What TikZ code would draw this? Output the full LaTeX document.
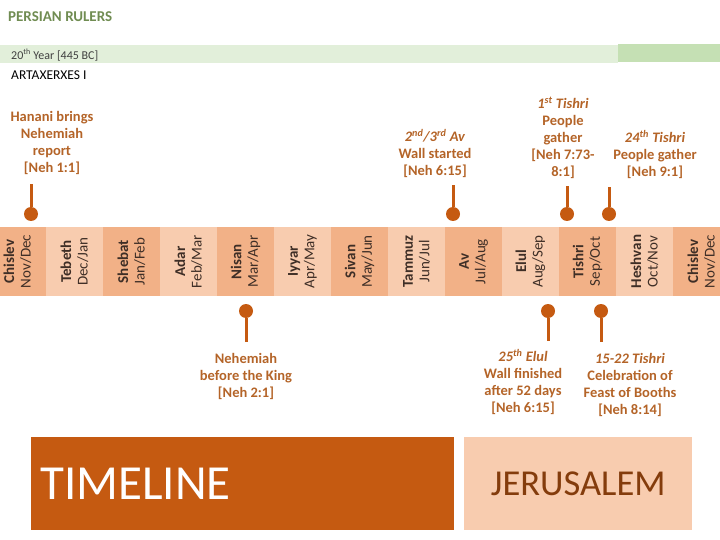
\documentclass[tikz,border=0pt]{standalone}
\usepackage{fontspec}
\setmainfont{Carlito}
\usepackage{tikz}
\usetikzlibrary{positioning}

\definecolor{rust}{RGB}{197,90,17}
\definecolor{peachdark}{RGB}{242,177,135}
\definecolor{peachlight}{RGB}{248,204,175}
\definecolor{labelbrown}{RGB}{180,100,40}
\definecolor{monthtext}{RGB}{62,46,38}
\definecolor{greenlight}{RGB}{226,239,218}
\definecolor{greendark}{RGB}{197,224,180}
\definecolor{rulergreen}{RGB}{112,140,82}
\definecolor{jerutext}{RGB}{132,60,12}

\tikzset{
    monthbox/.style={rotate=90, inner sep=0pt, minimum width=69pt, minimum height=57pt,
        align=center, text=monthtext, font=\fontsize{15}{16.5}\selectfont},
    pindot/.style={circle, fill=rust, inner sep=0pt, minimum size=14pt},
    pinstem/.style={draw=rust, line width=3pt},
    eventlabel/.style={align=center, text=labelbrown, font=\fontsize{14.5}{17}\selectfont\bfseries},
}

\begin{document}
\begin{tikzpicture}[x=1pt, y=-1pt]
\useasboundingbox (0,0) rectangle (720,540);

% header
\node[anchor=west, text=rulergreen, font=\fontsize{15}{17}\selectfont\bfseries, inner sep=0pt] (rulers) at (8,17) {PERSIAN RULERS};
\fill[greenlight] (0,45) rectangle (618,63);
\fill[greendark] (618,44) rectangle (720,62);
\node[anchor=west, text=black!75, font=\fontsize{12}{14}\selectfont, inner sep=0pt] (year) at (11,55) {20\textsuperscript{th} Year [445 BC]};
\node[anchor=west, font=\fontsize{13.5}{15}\selectfont, inner sep=0pt] (king) at (11,75) {ARTAXERXES I};

% month band
\node[monthbox, fill=peachdark] (chislev) at (17.5,261.5) {\textbf{Chislev}\\Nov/Dec};
\node[monthbox, fill=peachlight] (tebeth) at (74.5,261.5) {\textbf{Tebeth}\\Dec/Jan};
\node[monthbox, fill=peachdark] (shebat) at (131.5,261.5) {\textbf{Shebat}\\Jan/Feb};
\node[monthbox, fill=peachlight] (adar) at (188.5,261.5) {\textbf{Adar}\\Feb/Mar};
\node[monthbox, fill=peachdark] (nisan) at (245.5,261.5) {\textbf{Nisan}\\Mar/Apr};
\node[monthbox, fill=peachlight] (iyyar) at (302.5,261.5) {\textbf{Iyyar}\\Apr/May};
\node[monthbox, fill=peachdark] (sivan) at (359.5,261.5) {\textbf{Sivan}\\May/Jun};
\node[monthbox, fill=peachlight] (tammuz) at (416.5,261.5) {\textbf{Tammuz}\\Jun/Jul};
\node[monthbox, fill=peachdark] (av) at (473.5,261.5) {\textbf{Av}\\Jul/Aug};
\node[monthbox, fill=peachlight] (elul) at (530.5,261.5) {\textbf{Elul}\\Aug/Sep};
\node[monthbox, fill=peachdark] (tishri) at (587.5,261.5) {\textbf{Tishri}\\Sep/Oct};
\node[monthbox, fill=peachlight] (heshvan) at (644.5,261.5) {\textbf{Heshvan}\\Oct/Nov};
\node[monthbox, fill=peachdark] (chislevb) at (701.5,261.5) {\textbf{Chislev}\\Nov/Dec};

% events above the band
\node[eventlabel] (hanani) at (52,142.5) {Hanani brings\\Nehemiah\\report\\{[}Neh 1:1{]}};
\node[eventlabel] (wallstart) at (435,153.5) {\textit{2\textsuperscript{nd}/3\textsuperscript{rd} Av}\\Wall started\\{[}Neh 6:15{]}};
\node[eventlabel] (gatherone) at (563,138) {\textit{1\textsuperscript{st} Tishri}\\People\\gather\\{[}Neh 7:73-\\8:1{]}};
\node[eventlabel] (gathertwo) at (655,154.5) {\textit{24\textsuperscript{th} Tishri}\\People gather\\{[}Neh 9:1{]}};

\node[pindot] (hananidot) at (31,214) {};
\node[pindot] (wallstartdot) at (453,214) {};
\node[pindot] (gatheronedot) at (567,214) {};
\node[pindot] (gathertwodot) at (609,214) {};
\coordinate (hananitop) at (31,184);
\coordinate (wallstarttop) at (453,185);
\coordinate (gatheronetop) at (567,186);
\coordinate (gathertwotop) at (609,187);
\draw[pinstem] (hananidot) -- (hananitop);
\draw[pinstem] (wallstartdot) -- (wallstarttop);
\draw[pinstem] (gatheronedot) -- (gatheronetop);
\draw[pinstem] (gathertwodot) -- (gathertwotop);

% events below the band
\node[eventlabel] (beforeking) at (246,376.5) {Nehemiah\\before the King\\{[}Neh 2:1{]}};
\node[eventlabel] (wallend) at (523,382) {\textit{25\textsuperscript{th} Elul}\\Wall finished\\after 52 days\\{[}Neh 6:15{]}};
\node[eventlabel] (booths) at (630,385) {\textit{15-22 Tishri}\\Celebration of\\Feast of Booths\\{[}Neh 8:14{]}};

\node[pindot] (beforekingdot) at (246,311) {};
\node[pindot] (wallenddot) at (548,311) {};
\node[pindot] (boothsdot) at (601,311) {};
\coordinate (beforekingend) at (246,342);
\coordinate (wallendend) at (548,341);
\coordinate (boothsend) at (601,342);
\draw[pinstem] (beforekingdot) -- (beforekingend);
\draw[pinstem] (wallenddot) -- (wallendend);
\draw[pinstem] (boothsdot) -- (boothsend);

% title boxes
\node[fill=rust, anchor=north west, minimum width=423pt, minimum height=93pt, inner sep=0pt] (timelinebox) at (31,437) {};
\node[anchor=west, text=white, font=\fontsize{49}{54}\selectfont, inner sep=0pt] (timelinetxt) at ([xshift=9pt]timelinebox.west) {TIMELINE};
\node[fill=peachlight, anchor=north west, minimum width=228pt, minimum height=93pt, inner sep=0pt,
    text=jerutext, font=\fontsize{36.5}{40}\selectfont] (jerusalem) at (464,437) {JERUSALEM};
\end{tikzpicture}
\end{document}
